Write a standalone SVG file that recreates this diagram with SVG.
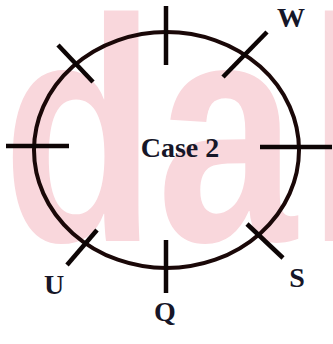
<svg xmlns="http://www.w3.org/2000/svg" width="333" height="344" viewBox="0 0 333 344">
  <style>
    .wm { font-family: "Liberation Sans", Arial, sans-serif; font-weight: bold; font-size: 318px; fill: #f9d7dc; }
    .ring { fill: none; stroke: #1a0808; stroke-width: 4; }
    .tick { stroke: #0d0505; stroke-width: 4.5; stroke-linecap: butt; }
    .lbl { font-family: "Liberation Serif", "Times New Roman", serif; font-weight: bold; font-size: 28px; fill: #161628; text-anchor: middle; }
  </style>
  <rect width="333" height="344" fill="#ffffff"/>
  <g id="watermark" transform="scale(0.79 1)">
    <text class="wm" x="3.2" y="241">d</text>
    <text class="wm" x="198.7" y="241">a</text>
    <text class="wm" x="389" y="241">l</text>
  </g>
  <g id="ring">
    <ellipse class="ring" cx="166.5" cy="150" rx="132.5" ry="118"/>
  </g>
  <g id="connectors">
    <line class="tick" x1="166" y1="6" x2="166" y2="65"/>
    <line class="tick" x1="166" y1="240" x2="166" y2="293"/>
    <line class="tick" x1="6" y1="146" x2="69" y2="146"/>
    <line class="tick" x1="260" y1="147" x2="332" y2="147"/>
    <line class="tick" x1="58" y1="45" x2="93" y2="82"/>
    <line class="tick" x1="267" y1="32" x2="223" y2="77"/>
    <line class="tick" x1="247" y1="224" x2="283" y2="258"/>
    <line class="tick" x1="97" y1="230" x2="67" y2="265"/>
  </g>
  <g id="center-label"><text class="lbl" x="180" y="157" font-size="29">Case 2</text></g>
  <g id="label-W"><text class="lbl" x="291" y="27">W</text></g>
  <g id="label-S"><text class="lbl" x="297" y="287">S</text></g>
  <g id="label-Q"><text class="lbl" x="165" y="321">Q</text></g>
  <g id="label-U"><text class="lbl" x="54" y="294">U</text></g>
</svg>
